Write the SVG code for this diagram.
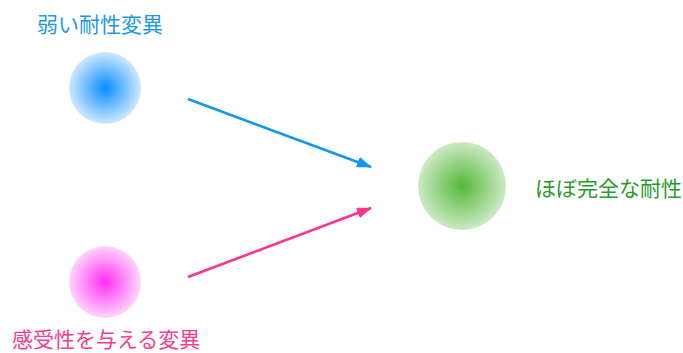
<svg xmlns="http://www.w3.org/2000/svg" width="683" height="353" viewBox="0 0 683 353">
<style>
text{font-family:"Noto Sans CJK JP","Noto Sans CJK SC",sans-serif;font-size:21px}
.c{stroke-width:2.6;fill:none}
</style>
<defs>
<radialGradient id="gb"><stop offset="0" stop-color="#0a8cff"/><stop offset="1" stop-color="#0a8cff" stop-opacity="0.2"/></radialGradient>
<radialGradient id="gp"><stop offset="0" stop-color="#ff2ef0"/><stop offset="1" stop-color="#ff2ef0" stop-opacity="0.2"/></radialGradient>
<radialGradient id="gg"><stop offset="0" stop-color="#55b83a"/><stop offset="1" stop-color="#55b83a" stop-opacity="0.3"/></radialGradient>
<marker id="ab" markerWidth="15" markerHeight="11" refX="14" refY="5.5" orient="auto" markerUnits="userSpaceOnUse" viewBox="0 0 15 11"><path d="M0,0L15,5.5L0,11z" fill="#1197ee"/></marker>
<marker id="ap" markerWidth="15" markerHeight="11" refX="14" refY="5.5" orient="auto" markerUnits="userSpaceOnUse" viewBox="0 0 15 11"><path d="M0,0L15,5.5L0,11z" fill="#fa3591"/></marker>
</defs>
<rect width="683" height="353" fill="#fff"/>
<g id="weak"><circle cx="105" cy="88" r="36" fill="url(#gb)"/><text x="37" y="32" fill="#2298e6">弱い耐性変異</text></g>
<g id="sens"><circle cx="105" cy="282" r="36" fill="url(#gp)"/><text x="12" y="347" fill="#f2408f">感受性を与える変異</text></g>
<g id="full"><circle cx="462" cy="186" r="44" fill="url(#gg)"/><text x="535" y="196" fill="#2b9a2b">ほぼ完全な耐性</text></g>
<g id="connectors">
<line class="c" x1="188" y1="99" x2="371" y2="167" stroke="#1197ee" marker-end="url(#ab)"/>
<line class="c" x1="188" y1="277" x2="371" y2="208" stroke="#fa3591" marker-end="url(#ap)"/>
</g>
</svg>
